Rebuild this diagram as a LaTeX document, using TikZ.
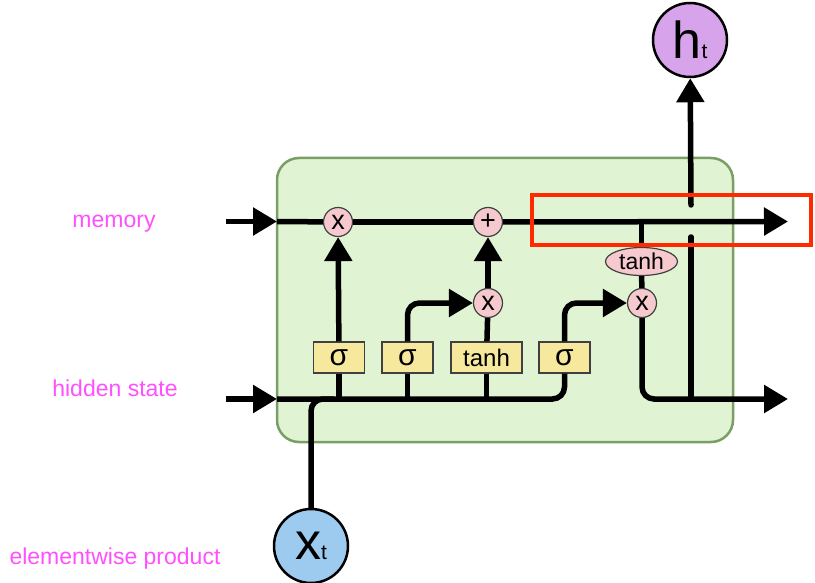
\documentclass[tikz,border=0pt]{standalone}
\usepackage{fontspec}
\setmainfont{Liberation Sans}
\usetikzlibrary{arrows.meta,shapes.geometric}
\definecolor{cellgreen}{HTML}{E0F4D4}
\definecolor{cellborder}{HTML}{7A9E66}
\definecolor{gatefill}{HTML}{F6E89C}
\definecolor{opfill}{HTML}{F6C9CE}
\definecolor{inputblue}{HTML}{9DCBF0}
\definecolor{outputpurple}{HTML}{D7A3EB}
\definecolor{labelpink}{HTML}{FF4FFF}
\definecolor{markred}{HTML}{FF2A00}
\tikzset{
    cell-box/.style = {draw=cellborder, fill=cellgreen, line width=2.5pt, rounded corners=22pt},
    gate-box/.style = {draw=black!75, fill=gatefill, line width=1.2pt, rectangle, minimum width=51pt, minimum height=31pt, inner sep=2pt, font=\fontsize{30}{30}\selectfont},
    op-circle/.style = {circle, draw=black!75, fill=opfill, line width=1.2pt, minimum size=29pt, inner sep=0pt, font=\fontsize{27}{27}\selectfont},
    op-ellipse/.style = {ellipse, draw=black!75, fill=opfill, line width=1.2pt, minimum width=72pt, minimum height=28pt, inner sep=0pt, font=\fontsize{23}{23}\selectfont},
    io-circle/.style = {circle, draw=black, line width=2.5pt, minimum size=74pt, inner sep=0pt},
    signal-line/.style = {line width=5.5pt, rounded corners=12pt},
    signal-arrow/.style = {signal-line, -{Triangle[length=24pt,width=27pt]}},
    side-label/.style = {text=labelpink, font=\fontsize{23}{23}\selectfont},
    highlight-frame/.style = {draw=markred, line width=4pt},
}

\begin{document}
\begin{tikzpicture}[x=1pt, y=-1pt]
\useasboundingbox (0,0) rectangle (815,583);

% cell body
\draw[cell-box] (277,158) rectangle (733,442);

% side labels
\node[side-label] (memory-label) at (114,224) {memory};
\node[side-label] (hidden-label) at (115,388) {hidden state};
\node[side-label] (product-label) at (115,559) {elementwise product};

% free ends
\coordinate (mem-start) at (226,221.5);
\coordinate (mem-edge) at (277,221.5);
\coordinate (mem-out) at (788,221.5);
\coordinate (hid-start) at (226,399);
\coordinate (hid-edge) at (277,399);
\coordinate (hid-out) at (788,399);
\coordinate (merge) at (334,399);
\coordinate (ht-branch) at (691,399);
\coordinate (gap-low) at (691,237);
\coordinate (gap-high) at (691,205);

% operations
\node[op-circle] (forget-x) at (338,222) {x};
\node[op-circle] (add) at (488,222) {+};
\node[op-circle] (input-x) at (488,303) {x};
\node[op-circle] (output-x) at (642,303) {x};
\node[op-ellipse] (cell-tanh) at (641.5,261.5) {tanh};

% gates
\node[gate-box] (forget-gate) at (339,357.5) {σ};
\node[gate-box] (input-gate) at (407.5,357.5) {σ};
\node[gate-box, minimum width=71pt, font=\fontsize{24}{24}\selectfont] (cand-gate) at (486.5,357.5) {tanh};
\node[gate-box] (output-gate) at (564.5,357.5) {σ};

% inputs and output
\node[io-circle, fill=inputblue] (xt) at (311,546) {{\fontsize{52}{52}\selectfont x}{\fontsize{21}{21}\selectfont t}};
\node[io-circle, fill=outputpurple] (ht) at (690,40) {{\fontsize{52}{52}\selectfont h}{\fontsize{21}{21}\selectfont t}};

% memory line
\draw[signal-arrow] (mem-start) -- (mem-edge);
\draw[signal-line] (mem-edge) -- (forget-x);
\draw[signal-line] (forget-x) -- (add);
\draw[signal-arrow] (add) -- (mem-out);

% hidden state line
\draw[signal-arrow] (hid-start) -- (hid-edge);
\draw[signal-line] (hid-edge) -| (output-gate);
\draw[signal-line] (xt) |- (merge);
\draw[signal-line] (forget-gate) -- (forget-gate |- hid-edge);
\draw[signal-line] (input-gate) -- (input-gate |- hid-edge);
\draw[signal-line] (cand-gate) -- (cand-gate |- hid-edge);

% gates into operations
\draw[signal-arrow] (forget-gate) -- (forget-x);
\draw[signal-arrow] (input-gate) |- (input-x);
\draw[signal-line] (cand-gate) -- (input-x);
\draw[signal-arrow] (input-x) -- (add);
\draw[signal-arrow] (output-gate) |- (output-x);

% output path
\draw[signal-line] (cell-tanh) -- (cell-tanh |- add);
\draw[signal-line] (cell-tanh) -- (output-x);
\draw[signal-arrow] (output-x) |- (hid-out);
\draw[signal-line, line cap=round] (ht-branch) -- (gap-low);
\draw[signal-arrow, line cap=round] (gap-high) -- (ht);

% highlight
\draw[highlight-frame] (532,195) rectangle (811,245);
\end{tikzpicture}
\end{document}
